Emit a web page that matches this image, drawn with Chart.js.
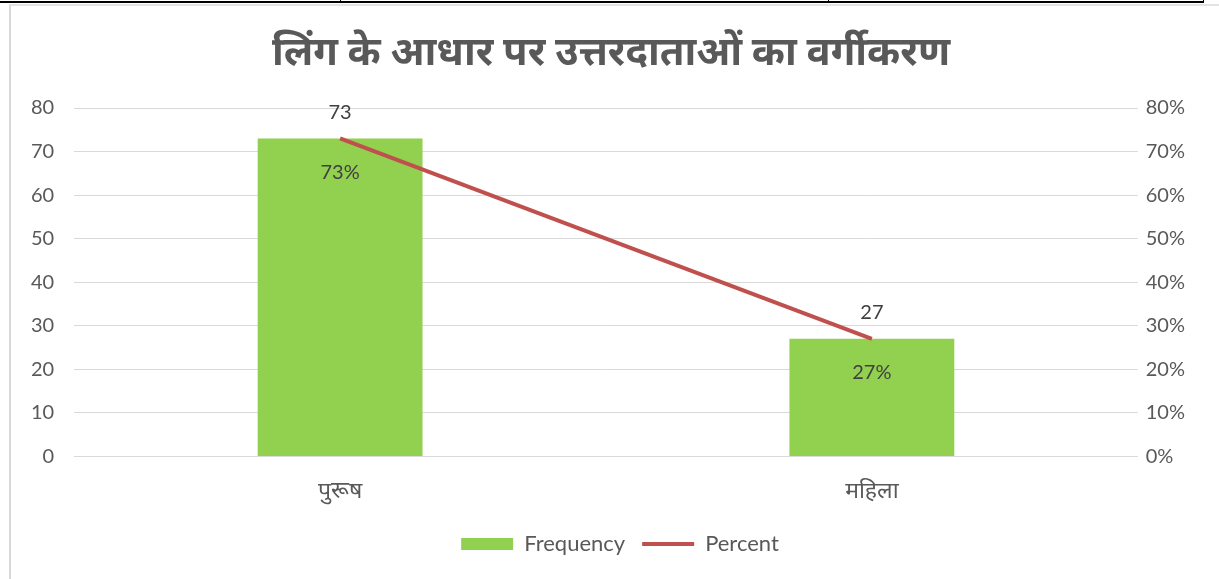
<!DOCTYPE html>
<html>
<head>
<meta charset="utf-8">
<script src="https://cdn.jsdelivr.net/npm/chart.js@4/dist/chart.umd.min.js"></script>
<style>
  html, body { margin: 0; padding: 0; background: #fff; }
  body { width: 1219px; height: 579px; position: relative; overflow: hidden; }
  .topline { position: absolute; left: 0; top: 1px; width: 1204px; height: 2px; background: #000; }
  .tick { position: absolute; top: 0; width: 1px; height: 3px; background: #000; }
  .frame { position: absolute; left: 9px; top: 4px; right: 0; bottom: 0;
           border-left: 2px solid #d9d9d9; border-top: 2px solid #e3e3e3; }
  #wrap { position: absolute; left: 11px; top: 6px; width: 1208px; height: 573px; }
</style>
</head>
<body>
<div class="topline"></div>
<div class="tick" style="left:340px"></div>
<div class="tick" style="left:828px"></div>
<div class="tick" style="left:1203px"></div>
<div class="frame"></div>
<div id="wrap"><canvas id="chart"></canvas></div>
<script>
(function () {
    const title = 'लिंग के आधार पर उत्तरदाताओं का वर्गीकरण';
    const categories = ['पुरूष', 'महिला'];
    const frequency = [73, 27];
    const percent = [73, 27];
    const leftTicks = [0, 10, 20, 30, 40, 50, 60, 70, 80];

    const grey = '#595959';
    const green = '#92D050';
    const red = '#C0504D';
    const fontFamily = 'Lato, "Noto Sans", "Open Sans", sans-serif';

    // value labels: frequency above the bar, percent below the line point
    const valueLabels = {
        id: 'valueLabels',
        afterLayout(chart) {
            // title and legend sit a bit right of centre in the original
            if (chart.legend) {
                chart.legend.left += 18;
                chart.legend.right += 18;
            }
            if (chart.titleBlock) {
                chart.titleBlock.left += 9;
                chart.titleBlock.right += 9;
            }
        },
        afterDatasetsDraw(chart) {
            const ctx = chart.ctx;
            ctx.save();
            ctx.font = '20px ' + fontFamily;
            ctx.fillStyle = '#404040';
            ctx.textAlign = 'center';
            ctx.textBaseline = 'middle';
            chart.getDatasetMeta(0).data.forEach((bar, i) => {
                ctx.fillText(String(frequency[i]), bar.x, bar.y - 26);
            });
            chart.getDatasetMeta(1).data.forEach((pt, i) => {
                ctx.fillText(percent[i] + '%', pt.x, pt.y + 34);
            });
            ctx.restore();
        },
    };

    const config = {
        data: {
            labels: categories,
            datasets: [
                {
                    type: 'line',
                    label: 'Percent',
                    data: percent,
                    yAxisID: 'y1',
                    borderColor: red,
                    backgroundColor: red,
                    borderWidth: 4,
                    pointRadius: 0,
                    order: 0,
                },
                {
                    type: 'bar',
                    label: 'Frequency',
                    data: frequency,
                    yAxisID: 'y',
                    backgroundColor: green,
                    categoryPercentage: 1,
                    barPercentage: 0.31,
                    order: 1,
                },
            ],
        },
        options: {
            responsive: true,
            maintainAspectRatio: false,
            animation: false,
            layout: { padding: { left: 0, right: 26, top: 0, bottom: 14 } },
            plugins: {
                title: {
                    display: true,
                    text: title,
                    color: grey,
                    font: { size: 40, weight: 'bold', family: fontFamily },
                    padding: { top: 22, bottom: 32 },
                },
                legend: {
                    position: 'bottom',
                    reverse: true,
                    labels: {
                        color: grey,
                        font: { size: 22, family: fontFamily },
                        usePointStyle: true,
                        pointStyleWidth: 52,
                        boxHeight: 12,
                        padding: 17,
                        generateLabels: (chart) => {
                            const items = Chart.defaults.plugins.legend.labels.generateLabels(chart);
                            return items.map((it) => {
                                if (it.text === 'Percent') {
                                    it.pointStyle = 'line';
                                    it.strokeStyle = red;
                                    it.lineWidth = 4;
                                } else {
                                    it.pointStyle = 'rect';
                                    it.lineWidth = 0;
                                }
                                return it;
                            });
                        },
                    },
                },
                tooltip: { enabled: false },
            },
            scales: {
                x: {
                    grid: { display: false },
                    border: { color: '#d9d9d9' },
                    ticks: { color: grey, font: { size: 23, family: fontFamily }, padding: 12 },
                },
                y: {
                    position: 'left',
                    min: 0,
                    max: 80,
                    afterBuildTicks: (axis) => { axis.ticks = leftTicks.map((v) => ({ value: v })); },
                    grid: { color: '#d9d9d9', drawTicks: false },
                    border: { display: false },
                    ticks: { color: grey, font: { size: 20, family: fontFamily }, padding: 20 },
                },
                y1: {
                    position: 'right',
                    min: 0,
                    max: 80,
                    afterBuildTicks: (axis) => { axis.ticks = leftTicks.map((v) => ({ value: v })); },
                    grid: { display: false, drawTicks: false },
                    border: { display: false },
                    ticks: {
                        color: grey,
                        font: { size: 20, family: fontFamily },
                        padding: 8,
                        callback: (v) => v + '%',
                    },
                },
            },
        },
        plugins: [valueLabels],
    };

    new Chart(document.getElementById('chart'), config);
})();
</script>
</body>
</html>
